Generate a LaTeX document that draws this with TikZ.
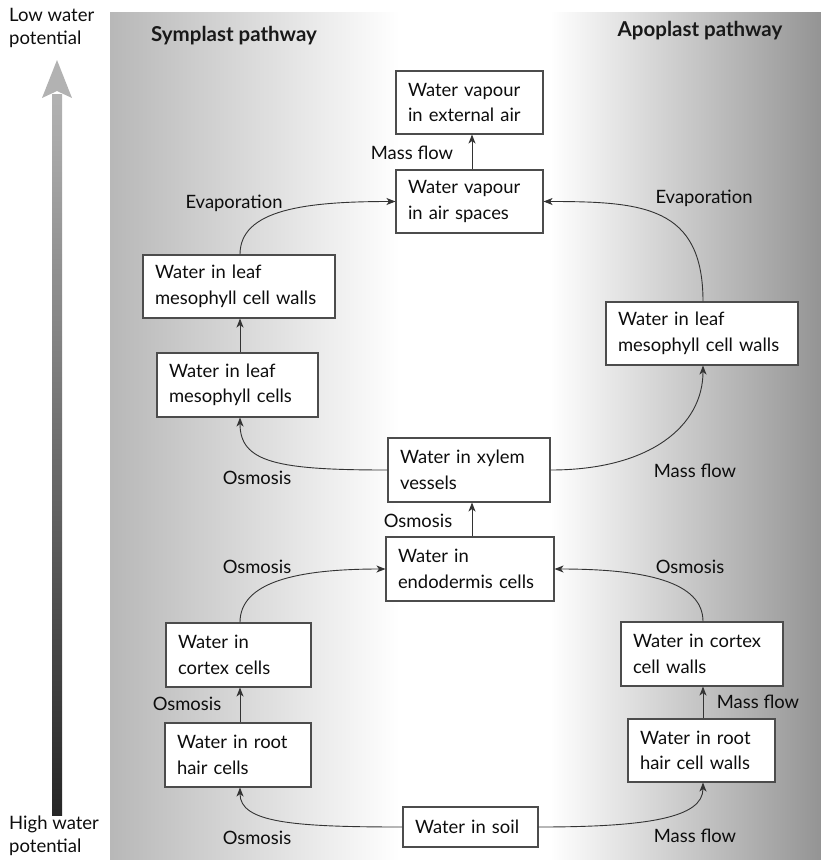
\documentclass[tikz,border=0pt]{standalone}
\usepackage{fontspec}
\setmainfont{Lato}
\usetikzlibrary{arrows.meta}
\newcommand{\twol}[2]{\mbox{#1}\\\mbox{#2}}
\begin{document}
\begin{tikzpicture}[x=1pt,y=-1pt,
  box/.style={draw=black!70, line width=1.1pt, fill=white, inner xsep=12pt, inner ysep=0pt, align=left, font=\fontsize{18.4}{25.5}\selectfont, text=black!95, anchor=center},
  lbl/.style={font=\fontsize{18.4}{25}\selectfont, inner sep=0pt, text=black!95},
  hdr/.style={font=\bfseries\fontsize{20.5}{24}\selectfont, inner sep=0pt, text=black!90},
  side/.style={font=\fontsize{18.5}{23}\selectfont, inner sep=0pt, align=left, anchor=north west, text=black!95},
  conn/.style={draw=black!80, line width=0.9pt, -{Stealth[length=9pt,width=7pt,inset=2.5pt]}}]
\useasboundingbox (0,0) rectangle (821,860);
% background
\shade[left color=black!28, right color=white] (110,12) rectangle (400,860);
\fill[white] (399.5,12) rectangle (550.5,860);
\shade[left color=white, right color=black!42] (550,12) rectangle (821,860);
% potential arrow
\shade[top color=black!30, bottom color=black!85] (52,94) rectangle (62,815);
\fill[black!30] (57,60) -- (72,98) -- (57,91) -- (42,98) -- cycle;
\node[side] (low) at (9,8) {Low water\\potential};
\node[side] (high) at (9,816) {High water\\potential};
% headers
\node[hdr] (sym) at (234,36) {Symplast pathway};
\node[hdr] (apo) at (700,31) {Apoplast pathway};
% boxes
\node[box, minimum width=147pt, minimum height=63pt, text width=123pt] (ext) at (469.5,102.5) {\twol{Water vapour}{in external air}};
\node[box, minimum width=147pt, minimum height=63pt, text width=123pt] (air) at (469.5,201.5) {\twol{Water vapour}{in air spaces}};
\node[box, minimum width=192pt, minimum height=63pt, text width=168pt] (lmw) at (239,286.5) {\twol{Water in leaf}{mesophyll cell walls}};
\node[box, minimum width=161pt, minimum height=64pt, text width=137pt] (lmc) at (237.5,385) {\twol{Water in leaf}{mesophyll cells}};
\node[box, minimum width=192pt, minimum height=63pt, text width=168pt] (rmw) at (702,333.5) {\twol{Water in leaf}{mesophyll cell walls}};
\node[box, minimum width=162pt, minimum height=64pt, text width=138pt] (xyl) at (469,470) {\twol{Water in xylem}{vessels}};
\node[box, minimum width=168pt, minimum height=64pt, text width=144pt] (endo) at (470,569) {\twol{Water in}{endodermis cells}};
\node[box, minimum width=145pt, minimum height=64pt, text width=121pt] (lcor) at (238.5,655) {\twol{Water in}{cortex cells}};
\node[box, minimum width=146pt, minimum height=64pt, text width=122pt] (lroot) at (238,755) {\twol{Water in root}{hair cells}};
\node[box, minimum width=135pt, minimum height=40pt, text width=111pt] (soil) at (470.5,827) {\mbox{Water in soil}};
\node[box, minimum width=147pt, minimum height=63pt, text width=123pt] (rroot) at (701.5,750.5) {\twol{Water in root}{hair cell walls}};
\node[box, minimum width=162pt, minimum height=64pt, text width=138pt] (rcor) at (702,654) {\twol{Water in cortex}{cell walls}};
% labels
\node[lbl] (l1) at (412,153) {Mass flow};
\node[lbl] (l2) at (234,203) {Evaporation};
\node[lbl] (l3) at (704,198) {Evaporation};
\node[lbl] (l4) at (257,478) {Osmosis};
\node[lbl] (l5) at (695,471) {Mass flow};
\node[lbl] (l6) at (418,521) {Osmosis};
\node[lbl] (l7) at (257,567) {Osmosis};
\node[lbl] (l8) at (690,567) {Osmosis};
\node[lbl] (l9) at (187,704) {Osmosis};
\node[lbl] (l10) at (758,702) {Mass flow};
\node[lbl] (l11) at (257,838) {Osmosis};
\node[lbl] (l12) at (695,836) {Mass flow};
% connectors
\draw[conn] (air.north -| 472,0) -- (ext.south -| 472,0);
\draw[conn] (endo.north -| 472,0) -- (xyl.south -| 472,0);
\draw[conn] (lmc.north -| 240,0) -- (lmw.south -| 240,0);
\draw[conn] (lroot.north -| 240,0) -- (lcor.south -| 240,0);
\draw[conn] (rroot.north -| 703,0) -- (rcor.south -| 703,0);
\draw[conn] (lmw.north -| 240,0) .. controls +(0,-45) and +(-90,0) .. (air.west);
\draw[conn] (rmw.north -| 703,0) .. controls +(0,-95) and +(100,0) .. (air.east);
\draw[conn] (xyl.west) .. controls +(-110,0) and +(0,45) .. (lmc.south -| 240,0);
\draw[conn] (xyl.east) .. controls +(100,0) and +(0,60) .. (rmw.south -| 703,0);
\draw[conn] (lcor.north -| 240,0) .. controls +(0,-40) and +(-90,0) .. (endo.west);
\draw[conn] (rcor.north -| 703,0) .. controls +(0,-40) and +(90,0) .. (endo.east);
\draw[conn] (soil.west) .. controls +(-110,0) and +(0,35) .. (lroot.south -| 240,0);
\draw[conn] (soil.east) .. controls +(110,0) and +(0,35) .. (rroot.south -| 703,0);
\end{tikzpicture}
\end{document}
